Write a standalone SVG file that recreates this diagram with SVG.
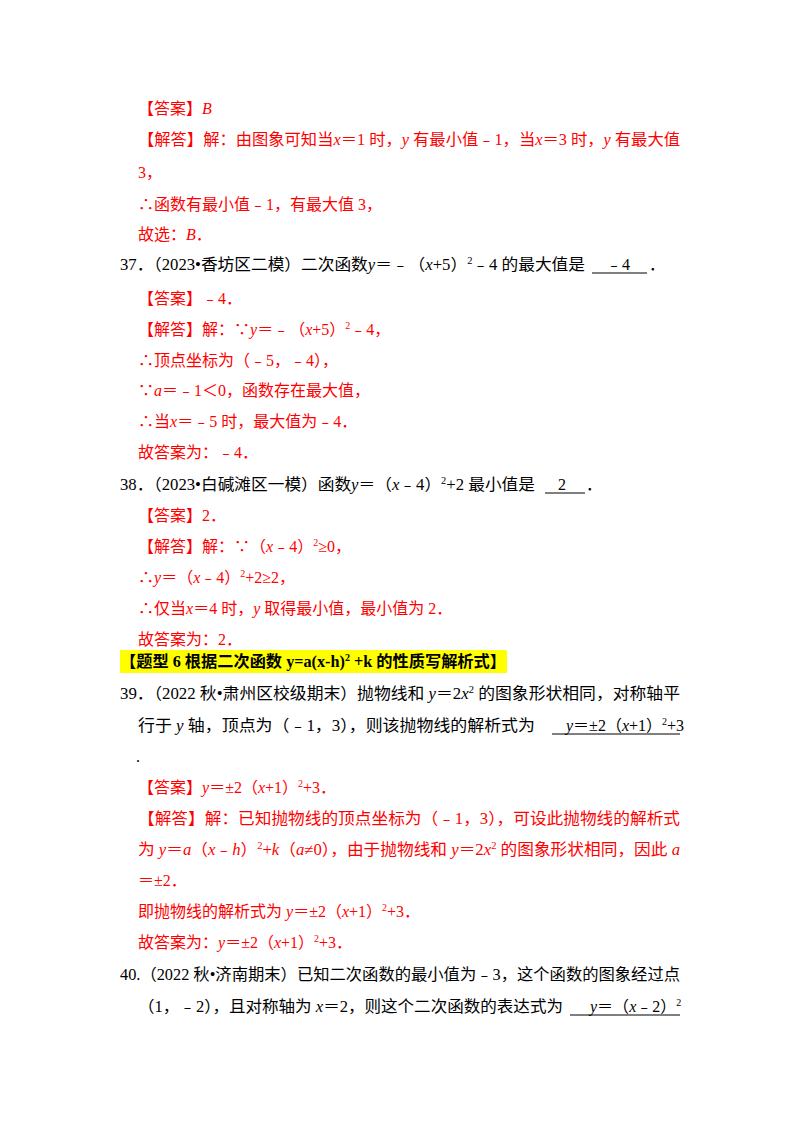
<svg xmlns="http://www.w3.org/2000/svg" width="800" height="1132" viewBox="0 0 800 1132">
<style>
text{font-family:"Liberation Serif","Noto Sans CJK SC",serif;font-size:16px;fill:#000}
.r{fill:#f00}
.i{font-style:italic}
.s{font-size:10px}
.b{font-weight:bold}
</style>
<rect width="800" height="1132" fill="#fff"/>
<g id="q36">
<text class="r" x="138" y="114">【答案】<tspan class="i">B</tspan></text>
<text class="r" x="138" y="145" textLength="542" lengthAdjust="spacingAndGlyphs">【解答】解：由图象可知当<tspan class="i">x</tspan>＝1 时，<tspan class="i">y</tspan> 有最小值﹣1，当<tspan class="i">x</tspan>＝3 时，<tspan class="i">y</tspan> 有最大值</text>
<text class="r" x="138" y="178">3，</text>
<text class="r" x="138" y="210">∴函数有最小值﹣1，有最大值 3，</text>
<text class="r" x="138" y="240">故选：<tspan class="i">B</tspan>．</text>
</g>
<g id="q37">
<text x="120" y="270" textLength="465" lengthAdjust="spacingAndGlyphs">37．（2023•香坊区二模）二次函数<tspan class="i">y</tspan>＝﹣（<tspan class="i">x</tspan>+5）<tspan class="s" dy="-6">2</tspan><tspan dy="6">﹣4 的最大值是</tspan></text>
<text x="606" y="270">﹣4</text>
<line x1="592" y1="273" x2="647" y2="273" stroke="#000" stroke-width="1"/>
<text x="649" y="270">．</text>
<text class="r" x="138" y="304">【答案】﹣4．</text>
<text class="r" x="138" y="335">【解答】解：∵<tspan class="i">y</tspan>＝﹣（<tspan class="i">x</tspan>+5）<tspan class="s" dy="-6">2</tspan><tspan dy="6">﹣4，</tspan></text>
<text class="r" x="138" y="366">∴顶点坐标为（﹣5，﹣4），</text>
<text class="r" x="138" y="396">∵<tspan class="i">a</tspan>＝﹣1＜0，函数存在最大值，</text>
<text class="r" x="138" y="427">∴当<tspan class="i">x</tspan>＝﹣5 时，最大值为﹣4．</text>
<text class="r" x="138" y="458">故答案为：﹣4．</text>
</g>
<g id="q38">
<text x="120" y="490" textLength="415" lengthAdjust="spacingAndGlyphs">38．（2023•白碱滩区一模）函数<tspan class="i">y</tspan>＝（<tspan class="i">x</tspan>﹣4）<tspan class="s" dy="-6">2</tspan><tspan dy="6">+2 最小值是</tspan></text>
<text x="558" y="490">2</text>
<line x1="545" y1="493" x2="585" y2="493" stroke="#000" stroke-width="1"/>
<text x="586" y="490">．</text>
<text class="r" x="138" y="521">【答案】2．</text>
<text class="r" x="138" y="552">【解答】解：∵（<tspan class="i">x</tspan>﹣4）<tspan class="s" dy="-6">2</tspan><tspan dy="6">≥0，</tspan></text>
<text class="r" x="138" y="583">∴<tspan class="i">y</tspan>＝（<tspan class="i">x</tspan>﹣4）<tspan class="s" dy="-6">2</tspan><tspan dy="6">+2≥2，</tspan></text>
<text class="r" x="138" y="614">∴仅当<tspan class="i">x</tspan>＝4 时，<tspan class="i">y</tspan> 取得最小值，最小值为 2．</text>
<text class="r" x="138" y="645">故答案为：2．</text>
</g>
<g id="heading">
<rect x="120" y="650" width="387" height="23" fill="#ff0"/>
<text class="b" x="120" y="667" textLength="386" lengthAdjust="spacingAndGlyphs">【题型 6  根据二次函数 y=a(x-h)<tspan class="s" dy="-6">2</tspan><tspan dy="6"> +k 的性质写解析式】</tspan></text>
</g>
<g id="q39">
<text x="120" y="699" textLength="560" lengthAdjust="spacingAndGlyphs">39．（2022 秋•肃州区校级期末）抛物线和 <tspan class="i">y</tspan>＝2<tspan class="i">x</tspan><tspan class="s" dy="-6">2</tspan><tspan dy="6"> 的图象形状相同，对称轴平</tspan></text>
<text x="138" y="731" textLength="397" lengthAdjust="spacingAndGlyphs">行于 <tspan class="i">y</tspan> 轴，顶点为（﹣1，3），则该抛物线的解析式为</text>
<text x="566" y="731"><tspan class="i">y</tspan>＝±2（<tspan class="i">x</tspan>+1）<tspan class="s" dy="-6">2</tspan><tspan dy="6">+3</tspan></text>
<line x1="552" y1="734" x2="680" y2="734" stroke="#000" stroke-width="1"/>
<text x="136" y="762">.</text>
<text class="r" x="138" y="793">【答案】<tspan class="i">y</tspan>＝±2（<tspan class="i">x</tspan>+1）<tspan class="s" dy="-6">2</tspan><tspan dy="6">+3．</tspan></text>
<text class="r" x="138" y="824" textLength="542" lengthAdjust="spacingAndGlyphs">【解答】解：已知抛物线的顶点坐标为（﹣1，3），可设此抛物线的解析式</text>
<text class="r" x="138" y="855" textLength="542" lengthAdjust="spacingAndGlyphs">为 <tspan class="i">y</tspan>＝<tspan class="i">a</tspan>（<tspan class="i">x</tspan>﹣<tspan class="i">h</tspan>）<tspan class="s" dy="-6">2</tspan><tspan dy="6">+</tspan><tspan class="i">k</tspan>（<tspan class="i">a</tspan>≠0），由于抛物线和 <tspan class="i">y</tspan>＝2<tspan class="i">x</tspan><tspan class="s" dy="-6">2</tspan><tspan dy="6"> 的图象形状相同，因此 </tspan><tspan class="i">a</tspan></text>
<text class="r" x="138" y="886">＝±2．</text>
<text class="r" x="138" y="917">即抛物线的解析式为 <tspan class="i">y</tspan>＝±2（<tspan class="i">x</tspan>+1）<tspan class="s" dy="-6">2</tspan><tspan dy="6">+3．</tspan></text>
<text class="r" x="138" y="948">故答案为：<tspan class="i">y</tspan>＝±2（<tspan class="i">x</tspan>+1）<tspan class="s" dy="-6">2</tspan><tspan dy="6">+3．</tspan></text>
</g>
<g id="q40">
<text x="120" y="980" textLength="560" lengthAdjust="spacingAndGlyphs">40.（2022 秋•济南期末）已知二次函数的最小值为﹣3，这个函数的图象经过点</text>
<text x="138" y="1012" textLength="425" lengthAdjust="spacingAndGlyphs">（1，﹣2），且对称轴为 <tspan class="i">x</tspan>＝2，则这个二次函数的表达式为</text>
<text x="590" y="1012"><tspan class="i">y</tspan>＝（<tspan class="i">x</tspan>﹣2）<tspan class="s" dy="-6">2</tspan></text>
<line x1="570" y1="1015" x2="680" y2="1015" stroke="#000" stroke-width="1"/>
</g>
</svg>
